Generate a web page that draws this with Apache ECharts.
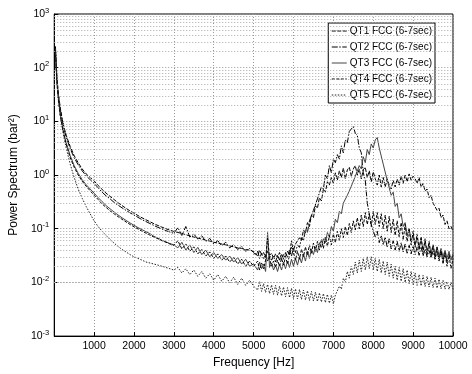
<!DOCTYPE html>
<html><head><meta charset="utf-8">
<script src="https://cdn.jsdelivr.net/npm/echarts@6/dist/echarts.min.js"></script>
<style>html,body{margin:0;padding:0;background:#fff}#c{width:472px;height:374px}</style>
</head><body><div id="c"></div>
<script>
// Frequencies (Hz)
const freq = [30,50,75,100,150,200,250,300,400,500,600,700,800,900,
1000,1100,1200,1300,1400,1500,1600,1700,1800,1900,
2000,2100,2200,2300,2400,2500,2600,2700,2800,2900,
3000,3100,3200,3300,3400,3500,3600,3700,3800,3900,
4000,4100,4200,4300,4400,4500,4600,4700,4800,4900,
5000,
5050,5100,5150,5200,5250,5300,5350,5400,5450,5500,
5550,5600,5650,5700,5750,5800,5850,5900,5950,6000,
6050,6100,6150,6200,6250,6300,6350,6400,6450,6500,
6550,6600,6650,6700,6750,6800,6850,6900,6950,7000,
7050,7100,7150,7200,7250,7300,7350,7400,7450,7500,
7550,7600,7650,7700,7750,7800,7850,7900,7950,8000,
8050,8100,8150,8200,8250,8300,8350,8400,8450,8500,
8550,8600,8650,8700,8750,8800,8850,8900,8950,9000,
9050,9100,9150,9200,9250,9300,9350,9400,9450,9500,
9550,9600,9650,9700,9750,9800,9850,9900,9950,10000];

const qt1 = [250,110,57,35,18,11,7.5,5.5,3.4,2.3,1.7,1.3,1.05,0.9,
0.78,0.64,0.54,0.46,0.40,0.35,0.305,0.27,0.24,0.215,
0.195,0.176,0.16,0.147,0.135,0.124,0.115,0.107,0.1,0.094,
0.089,0.085,0.082,0.077,0.074,0.07,0.067,0.064,0.061,0.059,
0.056,0.054,0.052,0.05,0.048,0.046,0.044,0.043,0.041,0.04,
0.038,
0.037,0.031,0.040,0.033,0.036,0.029,0.038,0.032,0.035,0.028,
0.034,0.029,0.036,0.027,0.033,0.030,0.038,0.033,0.045,0.040,
0.052,0.048,0.068,0.060,0.095,0.085,0.13,0.11,0.18,0.16,
0.27,0.24,0.38,0.33,0.55,0.48,0.75,0.65,0.9,0.7,
1.1,0.8,1.2,0.9,1.35,0.85,1.25,1.4,0.95,1.3,
1.5,1.0,1.3,0.85,1.25,1.4,0.9,1.2,0.75,1.15,
0.85,0.65,1.0,0.6,0.9,0.6,0.85,0.65,0.55,0.8,
0.6,0.85,0.65,0.95,0.7,1.0,0.75,1.05,0.8,0.95,
0.85,0.7,0.9,0.6,0.7,0.5,0.55,0.38,0.42,0.3,
0.3,0.22,0.24,0.16,0.18,0.12,0.14,0.1,0.11,0.09];

const qt2 = [240,105,54,33,17,10.3,7,5.1,3.1,2.1,1.55,1.2,0.97,0.82,
0.7,0.58,0.48,0.41,0.36,0.31,0.275,0.245,0.22,0.198,
0.18,0.163,0.148,0.136,0.125,0.115,0.106,0.099,0.092,0.087,
0.082,0.105,0.075,0.11,0.07,0.08,0.064,0.074,0.058,0.066,
0.052,0.06,0.048,0.056,0.044,0.051,0.041,0.047,0.038,0.043,
0.036,
0.032,0.038,0.028,0.035,0.027,0.033,0.025,0.032,0.026,0.031,
0.024,0.032,0.026,0.034,0.027,0.036,0.029,0.04,0.031,0.044,
0.036,0.05,0.045,0.068,0.06,0.095,0.085,0.14,0.13,0.22,
0.22,0.36,0.34,0.6,0.55,1.0,0.85,1.5,1.1,2.0,
1.7,2.4,2.0,3.5,2.6,4.5,4.0,6.5,6.0,8.0,
6.0,5.5,3.2,2.6,1.1,0.8,0.3,0.28,0.12,0.13,
0.07,0.09,0.055,0.075,0.05,0.07,0.045,0.065,0.042,0.06,
0.04,0.058,0.038,0.055,0.037,0.052,0.035,0.05,0.034,0.048,
0.033,0.046,0.032,0.045,0.031,0.042,0.03,0.04,0.029,0.038,
0.028,0.037,0.027,0.036,0.026,0.035,0.025,0.034,0.026,0.032];

const qt3 = [220,95,48,29,14,8.5,5.6,4.0,2.3,1.5,1.08,0.82,0.66,0.55,
0.46,0.38,0.32,0.27,0.235,0.205,0.18,0.16,0.143,0.128,
0.116,0.105,0.096,0.088,0.081,0.072,0.067,0.061,0.057,0.053,
0.05,0.044,0.056,0.04,0.05,0.036,0.045,0.033,0.04,0.03,
0.036,0.028,0.033,0.026,0.031,0.024,0.029,0.022,0.027,0.02,
0.022,
0.021,0.017,0.024,0.018,0.022,0.016,0.085,0.019,0.023,0.017,
0.021,0.016,0.022,0.017,0.024,0.018,0.025,0.019,0.027,0.02,
0.028,0.021,0.03,0.023,0.034,0.025,0.038,0.028,0.042,0.033,
0.046,0.036,0.055,0.045,0.065,0.055,0.085,0.07,0.11,0.09,
0.15,0.13,0.21,0.19,0.3,0.28,0.42,0.4,0.62,0.6,
0.95,0.9,1.5,1.3,2.2,1.7,3.0,2.4,3.8,3.2,
4.5,5.0,3.2,3.0,1.6,1.5,0.8,0.85,0.42,0.48,
0.26,0.3,0.16,0.19,0.11,0.13,0.075,0.1,0.06,0.075,
0.05,0.07,0.045,0.062,0.04,0.058,0.038,0.052,0.035,0.05,
0.033,0.046,0.031,0.043,0.03,0.04,0.028,0.038,0.027,0.034];

const qt4 = [210,90,45,27,13,8,5.3,3.7,2.1,1.4,1.0,0.77,0.62,0.51,
0.42,0.35,0.29,0.25,0.215,0.19,0.168,0.15,0.134,0.12,
0.109,0.099,0.09,0.083,0.076,0.07,0.065,0.06,0.056,0.052,
0.049,0.06,0.042,0.052,0.038,0.046,0.034,0.041,0.031,0.037,
0.028,0.034,0.026,0.031,0.024,0.029,0.022,0.027,0.02,0.025,
0.02,
0.019,0.025,0.017,0.023,0.018,0.026,0.07,0.028,0.02,0.025,
0.019,0.026,0.02,0.028,0.021,0.03,0.022,0.032,0.06,0.036,
0.026,0.038,0.027,0.042,0.03,0.046,0.032,0.05,0.035,0.054,
0.038,0.058,0.04,0.064,0.043,0.07,0.047,0.075,0.05,0.08,
0.055,0.09,0.06,0.1,0.068,0.11,0.075,0.125,0.085,0.14,
0.095,0.16,0.1,0.18,0.11,0.2,0.12,0.19,0.11,0.21,
0.12,0.2,0.11,0.19,0.1,0.18,0.09,0.17,0.085,0.15,
0.075,0.14,0.07,0.13,0.062,0.12,0.058,0.1,0.05,0.09,
0.045,0.08,0.04,0.072,0.036,0.065,0.033,0.058,0.03,0.05,
0.027,0.045,0.025,0.04,0.022,0.036,0.02,0.032,0.018,0.028];

const qt5 = [230,100,45,26,13,7.5,4.8,3.2,1.6,0.9,0.55,0.37,0.26,0.19,
0.14,0.11,0.09,0.075,0.063,0.054,0.047,0.041,0.037,0.033,
0.03,0.028,0.026,0.024,0.023,0.022,0.021,0.02,0.019,0.018,
0.017,0.019,0.015,0.018,0.014,0.017,0.013,0.016,0.012,0.0145,
0.011,0.014,0.0105,0.013,0.0098,0.0125,0.0092,0.012,0.0088,0.011,
0.0085,
0.009,0.0072,0.0105,0.0068,0.0095,0.0065,0.0092,0.0062,0.009,0.006,
0.0088,0.0058,0.0085,0.0056,0.0082,0.0054,0.008,0.0052,0.0078,0.005,
0.0076,0.0049,0.0074,0.0048,0.0072,0.0047,0.007,0.0046,0.0068,0.0045,
0.0066,0.0044,0.0064,0.0043,0.0062,0.0042,0.006,0.0041,0.0058,0.004,
0.0058,0.0055,0.0085,0.0075,0.012,0.01,0.016,0.012,0.02,0.014,
0.024,0.015,0.026,0.016,0.028,0.017,0.03,0.018,0.03,0.017,
0.028,0.016,0.027,0.015,0.025,0.014,0.024,0.013,0.022,0.012,
0.02,0.011,0.019,0.0105,0.018,0.01,0.017,0.0095,0.016,0.009,
0.015,0.0088,0.014,0.0086,0.0135,0.0084,0.013,0.0082,0.0125,0.008,
0.012,0.0078,0.0115,0.0076,0.011,0.0075,0.0105,0.0074,0.01,0.0075];

const seriesNames = ['QT1 FCC (6-7sec)','QT2 FCC (6-7sec)','QT3 FCC (6-7sec)','QT4 FCC (6-7sec)','QT5 FCC (6-7sec)'];
const minorGrid = [0.002,0.003,0.004,0.005,0.006,0.007,0.008,0.009,
0.02,0.03,0.04,0.05,0.06,0.07,0.08,0.09,
0.2,0.3,0.4,0.5,0.6,0.7,0.8,0.9,
2,3,4,5,6,7,8,9,
20,30,40,50,60,70,80,90,
200,300,400,500,600,700,800,900];

const allData = [qt1, qt2, qt3, qt4, qt5];
const styles = [
  {color:'#000', type:[4,1.5], width:1},
  {color:'#000', type:[6,1.5,1.5,1.5], width:1},
  {color:'#444', type:'solid', width:1},
  {color:'#000', type:[3,1.5], width:1},
  {color:'#222', type:[1.5,1.5], width:1}
];
const FONT = 'Liberation Sans, Arial, sans-serif';

const series = allData.map((d, i) => ({
  name: seriesNames[i],
  type: 'line',
  symbol: 'none',
  showSymbol: false,
  z: 3,
  lineStyle: styles[i],
  itemStyle: {color: styles[i].color},
  data: freq.map((f, k) => [f, d[k]]),
  markLine: i === 0 ? {
    silent: true, symbol: ['none','none'], animation: false,
    label: {show: false},
    lineStyle: {type: [1,2], color: '#aaa', width: 1},
    data: minorGrid.map(v => ({yAxis: v}))
  } : undefined
}));

const chart = echarts.init(document.getElementById('c'), null, {renderer: 'canvas'});
chart.setOption({
  animation: false,
  backgroundColor: '#fff',
  grid: {left: 47, right: 19, top: 14, bottom: 23, show: true, borderColor: '#000', borderWidth: 1},
  legend: {
    orient: 'vertical', right: 37, top: 23,
    backgroundColor: '#fff', borderColor: '#000', borderWidth: 1,
    padding: [3, 3, 3, 3], itemGap: 6, itemWidth: 15, itemHeight: 10,
    itemStyle: {opacity: 0},
    lineStyle: {width: 1},
    textStyle: {fontSize: 10, color: '#000', fontFamily: FONT, padding: [0,0,0,-2]},
    data: seriesNames
  },
  xAxis: {
    type: 'value', min: 0, max: 10000, interval: 1000,
    name: 'Frequency [Hz]', nameLocation: 'middle', nameGap: 17,
    nameTextStyle: {fontSize: 12, color: '#000', fontFamily: FONT},
    axisLine: {lineStyle: {color: '#000'}},
    axisTick: {inside: true, length: 4, lineStyle: {color: '#000'}},
    axisLabel: {color: '#000', fontSize: 10.5, fontFamily: FONT, margin: 5,
      formatter: v => v === 0 ? '' : String(v)},
    splitLine: {show: true, lineStyle: {type: [1,2], color: '#999', width: 1}}
  },
  yAxis: {
    type: 'log', logBase: 10, min: 0.001, max: 1000,
    name: 'Power Spectrum (bar²)', nameLocation: 'middle', nameGap: 28,
    nameTextStyle: {fontSize: 12, color: '#000', fontFamily: FONT},
    axisLine: {lineStyle: {color: '#000'}},
    axisTick: {inside: true, length: 4, lineStyle: {color: '#000'}},
    axisLabel: {color: '#000', margin: 5, fontFamily: FONT,
      formatter: v => '{b|10}{s|' + Math.round(Math.log10(v)) + '}',
      rich: {b: {fontSize: 10.5, fontFamily: FONT, color: '#000'},
             s: {fontSize: 7.5, fontFamily: FONT, color: '#000', padding: [0,0,7,0]}}},
    splitLine: {show: true, lineStyle: {type: [1,2], color: '#999', width: 1}}
  },
  series: series
});
</script></body></html>
